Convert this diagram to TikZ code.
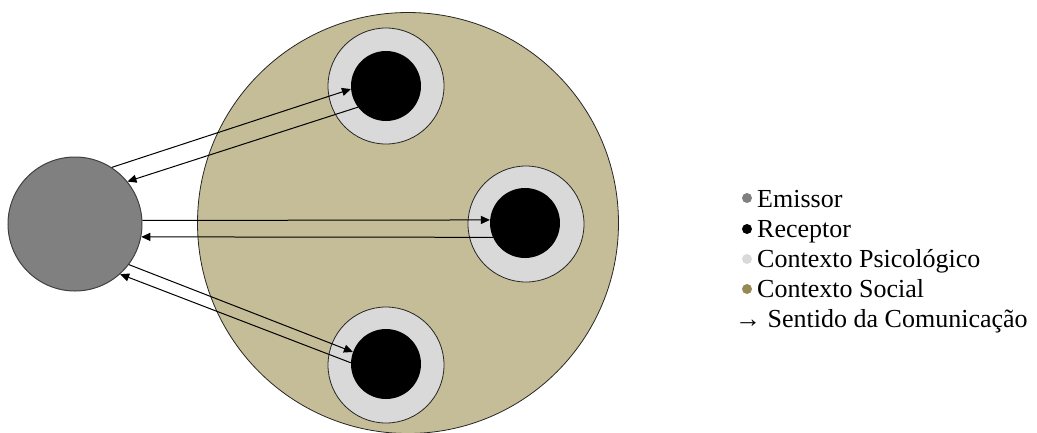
\documentclass[tikz,border=0pt]{standalone}
\usepackage{xcolor}
\usepackage{fontspec}
\setmainfont{Liberation Serif}
\usepackage{tikz}
\usetikzlibrary{arrows.meta}

\definecolor{emissorgray}{HTML}{808080}
\definecolor{psicogray}{HTML}{D9D9D9}
\definecolor{socialtan}{HTML}{C4BD97}
\definecolor{socialdark}{HTML}{948A54}

\begin{document}
\begin{tikzpicture}[x=1pt, y=-1pt,
  social/.style={circle, draw=black!85, line width=0.8pt, fill=socialtan, minimum size=421pt, inner sep=0pt},
  psico/.style={circle, draw=black!85, line width=0.8pt, fill=psicogray, minimum size=116pt, inner sep=0pt},
  receptor/.style={circle, fill=black, minimum size=70pt, inner sep=0pt},
  emissor/.style={circle, draw=black!75, line width=1pt, fill=emissorgray, minimum size=134pt, inner sep=0pt},
  arrow/.style={-{Triangle[length=9pt, width=8pt]}, line width=1pt},
  dot/.style={circle, minimum size=10pt, inner sep=0pt},
  legtext/.style={anchor=base west, inner sep=0pt, font=\fontsize{26}{30}\selectfont}
]
\useasboundingbox (0,0) rectangle (1037,432);

% Contexto social
\node[social] (social) at (408,223) {};

% Receptores
\node[psico] (psiA) at (386,86) {};
\node[receptor] (recA) at (386,86) {};
\node[psico] (psiB) at (526,224) {};
\node[receptor] (recB) at (525,223) {};
\node[psico] (psiC) at (386,365) {};
\node[receptor] (recC) at (386,364) {};

% Emissor
\node[emissor] (emissor) at (75,224) {};

% Arrows
\draw[arrow] (emissor.57) -- (recA.185);
\draw[arrow] (recA.217) -- (emissor.39);
\draw[arrow] (emissor.3) -- (recB.175);
\draw[arrow] (recB.204) -- (emissor.-11);
\draw[arrow] (emissor.-37) -- (recC.160);
\draw[arrow] (recC.178) -- (emissor.-48);

% Legend
\node[dot, fill=emissorgray] (dotE) at (747,198) {};
\node[legtext] (legE) at (757,207) {Emissor};
\node[dot, fill=black] (dotR) at (747,229) {};
\node[legtext] (legR) at (757,237) {Receptor};
\node[dot, fill=psicogray] (dotP) at (747,259) {};
\node[legtext] (legP) at (757,267) {Contexto Psicológico};
\node[dot, fill=socialdark] (dotS) at (747,289) {};
\node[legtext] (legS) at (757,297) {Contexto Social};
\node[legtext] (legC) at (735,327) {→ Sentido da Comunicação};

\end{tikzpicture}
\end{document}
